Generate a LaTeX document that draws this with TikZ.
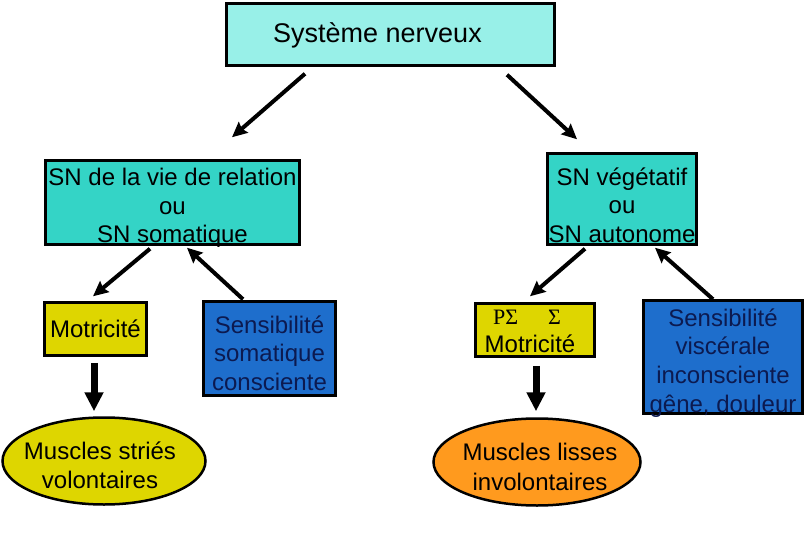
\documentclass[tikz,border=0pt]{standalone}
\usepackage{fontspec}
\setmainfont{Liberation Sans}
\newfontfamily\serifgr{Liberation Serif}
\usetikzlibrary{arrows.meta,shapes.geometric}
\definecolor{titlecyan}{RGB}{152,240,232}
\definecolor{turq}{RGB}{52,212,198}
\definecolor{yel}{RGB}{222,214,0}
\definecolor{blu}{RGB}{30,110,204}
\definecolor{navy}{RGB}{12,26,80}
\definecolor{orng}{RGB}{255,154,30}
\tikzset{
  box/.style={draw=black, line width=2.5pt, rectangle, inner sep=0pt},
  ell/.style={draw=black, line width=2.5pt, ellipse, inner sep=0pt},
  txt/.style={inner sep=0pt, align=center, font=\fontsize{24pt}{28.5pt}\selectfont},
  arr/.style={line width=4pt, -{Stealth[length=15pt,width=14pt,inset=2pt]}},
  bigarr/.style={line width=7pt, -{Triangle[length=19pt,width=18pt]}},
}
\begin{document}
\begin{tikzpicture}[x=1pt,y=-1pt]
\useasboundingbox (0,0) rectangle (810,540);
\fill[white] (0,0) rectangle (810,540);

\node[box, fill=titlecyan, minimum width=328pt, minimum height=62pt] (top) at (390.5,34.5) {};
\node[txt, font=\fontsize{27pt}{30pt}\selectfont] (top-t) at ([xshift=-13pt,yshift=-1pt]top.center) {Système nerveux};

\node[box, fill=turq, minimum width=254pt, minimum height=84pt] (snr) at (172.5,202.5) {};
\node[txt] (snr-t) at ([yshift=-5.5pt]snr.center) {SN de la vie de relation\\ou\\SN somatique};

\node[box, fill=turq, minimum width=149pt, minimum height=91pt] (snv) at (622,199) {};
\node[txt] (snv-t) at ([yshift=-6pt]snv.center) {SN végétatif\\ou\\SN autonome};

\node[box, fill=yel, minimum width=102pt, minimum height=53pt] (mot1) at (95.5,329) {};
\node[txt] (mot1-t) at (mot1.center) {Motricité};

\node[box, fill=blu, minimum width=132pt, minimum height=94pt] (sens1) at (269.5,348.5) {};
\node[txt, text=navy] (sens1-t) at ([yshift=-4.5pt]sens1.center) {Sensibilité\\somatique\\consciente};

\node[box, fill=yel, minimum width=119pt, minimum height=53pt] (mot2) at (535,330) {};
\node[txt] (mot2-t) at ([xshift=-5pt,yshift=-1.5pt]mot2.center)
  {\hspace*{-3pt}{\serifgr\fontsize{22pt}{22pt}\selectfont PΣ\hspace{30pt}Σ}\hspace*{3pt}\\[-1pt]Motricité};

\node[box, fill=blu, minimum width=159pt, minimum height=113pt] (sens2) at (723,357) {};
\node[txt, text=navy, font=\fontsize{24pt}{28.7pt}\selectfont] (sens2-t) at ([yshift=-6pt]sens2.center)
  {Sensibilité\\viscérale\\inconsciente\\gêne, douleur};

\node[ell, fill=yel, minimum width=203pt, minimum height=87pt] (ell1) at (104,461) {};
\node[txt, font=\fontsize{24pt}{29pt}\selectfont] (ell1-t) at ([xshift=-4pt,yshift=-4pt]ell1.center) {Muscles striés\\volontaires};

\node[ell, fill=orng, minimum width=207pt, minimum height=87pt] (ell2) at (537,462) {};
\node[txt, font=\fontsize{24pt}{29.5pt}\selectfont] (ell2-t) at ([xshift=3pt,yshift=-5pt]ell2.center) {Muscles lisses\\involontaires};

\draw[arr] ([xshift=-85.5pt,yshift=-7pt]top.south) -- ([xshift=59.5pt,yshift=22pt]snr.north);
\draw[arr] ([xshift=116.5pt,yshift=-8pt]top.south) -- ([xshift=-45pt,yshift=13pt]snv.north);

\draw[arr] ([xshift=-22.5pt,yshift=-3pt]snr.south) -- ([xshift=-2.5pt,yshift=5pt]mot1.north);
\draw[arr] ([xshift=-26.5pt,yshift=1pt]sens1.north) -- ([xshift=14.5pt,yshift=-2pt]snr.south);
\draw[arr] ([xshift=-37pt,yshift=-3pt]snv.south) -- ([xshift=-5pt,yshift=6pt]mot2.north);
\draw[arr] ([xshift=-10pt,yshift=0pt]sens2.north) -- ([xshift=33pt,yshift=-2pt]snv.south);

\draw[bigarr] ([xshift=-1.5pt,yshift=-6pt]mot1.south) -- ([xshift=-10pt,yshift=5pt]ell1.north);
\draw[bigarr] ([xshift=1pt,yshift=-8pt]mot2.south) -- ([xshift=-1pt,yshift=6pt]ell2.north);
\end{tikzpicture}
\end{document}
